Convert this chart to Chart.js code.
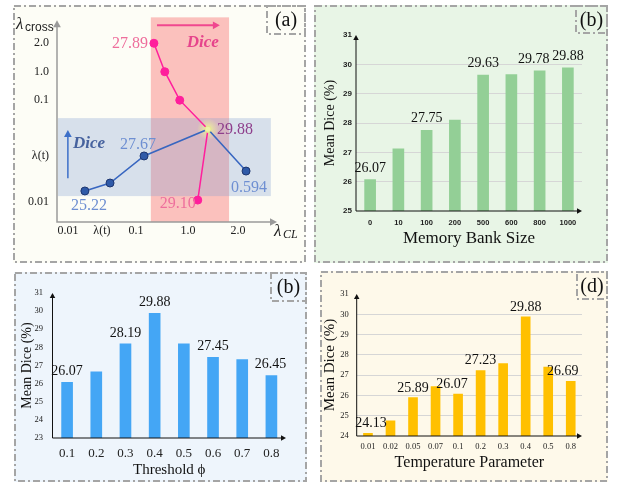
<!DOCTYPE html>
<html>
<head>
<meta charset="utf-8">
<script src="https://cdn.jsdelivr.net/npm/chart.js@4.4.0/dist/chart.umd.min.js"></script>
<style>
  body { margin: 0; background: #fff; width: 617px; height: 487px; position: relative; overflow: hidden; }
  .panel { position: absolute; }
</style>
</head>
<body>
<div class="panel" style="left:13px;top:5px;width:293px;height:258px"><canvas id="chartA"></canvas></div>
<div class="panel" style="left:314px;top:5px;width:294px;height:258px"><canvas id="chartMem"></canvas></div>
<div class="panel" style="left:14px;top:272px;width:293px;height:210px"><canvas id="chartThr"></canvas></div>
<div class="panel" style="left:320px;top:271px;width:288px;height:211px"><canvas id="chartTemp"></canvas></div>
<script>
// panel (a): positions on the two hyper-parameter axes
const crossTickVals = [0.42, 2.05, 4, 5, 6];
const crossTickLabels = ['0.01', 'λ(t)', '0.1', '1.0', '2.0'];
const clTickVals = [1, 2, 3, 4.53, 6];
const clTickLabels = ['0.01', 'λ(t)', '0.1', '1.0', '2.0'];

const blueX = [1.5, 2.24, 3.24, 5.12, 6.24];
const blueY = [0.81, 1.09, 2.04, 2.98, 1.51];
const blueDice = ['25.22', '', '27.67', '29.88', '0.594'];

const pinkX = [3.53, 3.85, 4.29, 5.12, 4.82];
const pinkY = [6, 5, 4, 2.98, 0.49];
const pinkDice = ['27.89', '', '', '', '29.10'];

// panel (b) memory bank
const memSizes = ['0', '10', '100', '200', '500', '600', '800', '1000'];
const memDice = [26.07, 27.12, 27.75, 28.1, 29.63, 29.65, 29.78, 29.88];
const memShow = [1, 0, 1, 0, 1, 0, 1, 1];

// panel (b) threshold
const thresholds = ['0.1', '0.2', '0.3', '0.4', '0.5', '0.6', '0.7', '0.8'];
const thrDice = [26.07, 26.65, 28.19, 29.88, 28.2, 27.45, 27.33, 26.45];
const thrShow = [1, 0, 1, 1, 0, 1, 0, 1];

// panel (d) temperature
const temps = ['0.01', '0.02', '0.05', '0.07', '0.1', '0.2', '0.3', '0.4', '0.5', '0.8'];
const tempDice = [24.13, 24.75, 25.89, 26.44, 26.07, 27.23, 27.57, 29.88, 27.4, 26.69];
const tempShow = [1, 0, 1, 0, 1, 1, 0, 1, 0, 1];

const SERIF = '"Liberation Serif", "DejaVu Serif", serif';
const SANS = '"Liberation Sans", Arial, sans-serif';

// background, dash-dot frame and the corner tag
const panelFrame = {
    id: 'panelFrame',
    beforeDraw(chart, args, o) {
        const ctx = chart.ctx;
        ctx.save();
        ctx.fillStyle = o.bg;
        ctx.fillRect(0, 0, chart.width, chart.height);
        ctx.restore();
    },
    afterDraw(chart, args, o) {
        const {ctx, width, height} = chart;
        ctx.save();
        ctx.strokeStyle = '#a5a5a5';
        ctx.lineWidth = 2;
        ctx.setLineDash([7, 3, 2, 3]);
        ctx.strokeRect(1, 1, width - 2, height - 2);
        ctx.strokeRect(width - o.tagW - 1, 1, o.tagW, o.tagH);
        ctx.setLineDash([]);
        ctx.fillStyle = '#111';
        ctx.font = '20px ' + SERIF;
        ctx.textAlign = 'center';
        ctx.textBaseline = 'middle';
        ctx.fillText(o.tag, width - o.tagW / 2 - 1, o.tagH / 2 + 2);
        ctx.restore();
    }
};

function arrowHead(ctx, x, y, dir, size) {
    ctx.beginPath();
    if (dir === 'up') {
        ctx.moveTo(x, y);
        ctx.lineTo(x - size * 0.55, y + size);
        ctx.lineTo(x + size * 0.55, y + size);
    } else {
        ctx.moveTo(x, y);
        ctx.lineTo(x - size, y - size * 0.55);
        ctx.lineTo(x - size, y + size * 0.55);
    }
    ctx.closePath();
    ctx.fill();
}

const axisArrows = {
    id: 'axisArrows',
    afterDatasetsDraw(chart, args, o) {
        const {ctx, chartArea: a} = chart;
        ctx.save();
        ctx.strokeStyle = o.color;
        ctx.fillStyle = o.color;
        ctx.lineWidth = o.width;
        ctx.beginPath();
        ctx.moveTo(a.left, a.top + o.size);
        ctx.lineTo(a.left, a.bottom);
        ctx.lineTo(a.right - o.size, a.bottom);
        ctx.stroke();
        arrowHead(ctx, a.left, a.top, 'up', o.size);
        arrowHead(ctx, a.right, a.bottom, 'right', o.size);
        ctx.restore();
    }
};

const barValues = {
    id: 'barValues',
    afterDatasetsDraw(chart, args, o) {
        const ctx = chart.ctx;
        const meta = chart.getDatasetMeta(0);
        const data = chart.data.datasets[0].data;
        ctx.save();
        ctx.fillStyle = '#111';
        ctx.font = '14px ' + SERIF;
        ctx.textAlign = 'center';
        ctx.textBaseline = 'alphabetic';
        meta.data.forEach((bar, i) => {
            if (!o.show[i]) return;
            ctx.fillText(data[i].toFixed(2), bar.x + (o.dx[i] || 0), bar.y - o.gap);
        });
        ctx.restore();
    }
};

function barChart(id, labels, values, show, cfg) {
    return new Chart(document.getElementById(id), {
        type: 'bar',
        data: {
            labels: labels,
            datasets: [{
                data: values,
                backgroundColor: cfg.color,
                barThickness: cfg.barW
            }]
        },
        options: {
            responsive: true,
            maintainAspectRatio: false,
            animation: false,
            layout: {padding: {left: 0, top: cfg.top, right: cfg.right, bottom: 0}},
            plugins: {
                legend: {display: false},
                tooltip: {enabled: false},
                panelFrame: {bg: cfg.bg, tag: cfg.tag, tagW: cfg.tagW, tagH: cfg.tagH},
                axisArrows: {color: '#111', width: 1, size: 5},
                barValues: {show: show, dx: cfg.dx, gap: cfg.gap}
            },
            scales: {
                x: {
                    grid: {display: false, drawTicks: false},
                    border: {display: false},
                    ticks: {font: cfg.xFont, color: '#222', padding: cfg.xPad, maxRotation: 0, autoSkip: false},
                    title: {display: true, text: cfg.xTitle, color: '#111',
                        font: {family: SERIF, size: cfg.xTitleSize}, padding: {top: 0, bottom: cfg.xTitlePad}},
                    afterFit: s => { s.height = cfg.bottom; }
                },
                y: {
                    min: cfg.min,
                    max: cfg.max,
                    grid: {
                        drawTicks: false,
                        color: c => (cfg.grid && c.tick.value > cfg.min && c.tick.value < cfg.max) ? '#d6d6d6' : 'rgba(0,0,0,0)'
                    },
                    border: {display: false},
                    ticks: {stepSize: 1, font: cfg.yFont, color: '#222', padding: cfg.yPad},
                    title: {display: true, text: 'Mean Dice (%)', color: '#111',
                        font: {family: SERIF, size: cfg.yTitleSize}, padding: {top: cfg.yTitlePad, bottom: 0}},
                    afterFit: s => { s.width = cfg.left; }
                }
            }
        },
        plugins: [panelFrame, axisArrows, barValues]
    });
}

// panel (a) decorations
const sketchA = {
    id: 'sketchA',
    beforeDatasetsDraw(chart) {
        const {ctx, chartArea: a, scales: {x, y}} = chart;
        ctx.save();
        // pink column (lambda_CL direction)
        ctx.fillStyle = 'rgba(248,120,120,0.45)';
        const px0 = x.getPixelForValue(3.44), px1 = x.getPixelForValue(5.74);
        const py0 = y.getPixelForValue(6.91);
        ctx.fillRect(px0, py0, px1 - px0, a.bottom - py0);
        // blue row (lambda_cross direction)
        ctx.fillStyle = 'rgba(130,160,210,0.3)';
        const bx1 = x.getPixelForValue(6.97);
        const by0 = y.getPixelForValue(3.37), by1 = y.getPixelForValue(0.63);
        ctx.fillRect(a.left + 1, by0, bx1 - a.left - 1, by1 - by0);
        // glow at the optimum
        const cx = x.getPixelForValue(blueX[3]), cy = y.getPixelForValue(blueY[3]);
        const g = ctx.createRadialGradient(cx, cy, 0, cx, cy, 11);
        g.addColorStop(0, 'rgba(240,245,150,0.95)');
        g.addColorStop(1, 'rgba(240,245,150,0)');
        ctx.fillStyle = g;
        ctx.beginPath();
        ctx.arc(cx, cy, 11, 0, Math.PI * 2);
        ctx.fill();
        ctx.restore();
    },
    afterDatasetsDraw(chart) {
        const {ctx, chartArea: a, scales: {x, y}} = chart;
        ctx.save();
        // axes
        ctx.strokeStyle = '#9a9a9a';
        ctx.fillStyle = '#9a9a9a';
        ctx.lineWidth = 1.5;
        ctx.beginPath();
        ctx.moveTo(a.left, a.top + 6);
        ctx.lineTo(a.left, a.bottom);
        ctx.lineTo(a.right - 6, a.bottom);
        ctx.stroke();
        arrowHead(ctx, a.left, a.top, 'up', 7);
        arrowHead(ctx, a.right, a.bottom, 'right', 7);

        // pink arrow + Dice
        ctx.strokeStyle = '#f0478f';
        ctx.fillStyle = '#f0478f';
        ctx.lineWidth = 2;
        const ay = y.getPixelForValue(6.63);
        const ax0 = x.getPixelForValue(3.62), ax1 = x.getPixelForValue(5.47);
        ctx.beginPath();
        ctx.moveTo(ax0, ay);
        ctx.lineTo(ax1 - 6, ay);
        ctx.stroke();
        arrowHead(ctx, ax1, ay, 'right', 7);
        ctx.font = 'italic bold 17px ' + SERIF;
        ctx.textAlign = 'center';
        ctx.textBaseline = 'middle';
        ctx.fillStyle = '#e6448c';
        ctx.fillText('Dice', x.getPixelForValue(4.97), y.getPixelForValue(6.04));

        // blue arrow + Dice
        ctx.strokeStyle = '#3c6fc8';
        ctx.fillStyle = '#3c6fc8';
        ctx.lineWidth = 1.5;
        const vx = x.getPixelForValue(1.0);
        const vy0 = y.getPixelForValue(1.26), vy1 = y.getPixelForValue(2.95);
        ctx.beginPath();
        ctx.moveTo(vx, vy0);
        ctx.lineTo(vx, vy1 + 6);
        ctx.stroke();
        arrowHead(ctx, vx, vy1, 'up', 7);
        ctx.fillStyle = '#46629e';
        ctx.fillText('Dice', x.getPixelForValue(1.62), y.getPixelForValue(2.49));

        // point labels
        ctx.font = '16px ' + SERIF;
        const put = (meta, texts, spec) => {
            meta.data.forEach((pt, i) => {
                if (!texts[i]) return;
                const s = spec[i];
                ctx.fillStyle = s.c;
                ctx.textAlign = s.al;
                ctx.fillText(texts[i], pt.x + s.dx, pt.y + s.dy);
            });
        };
        const lb = '#6e8fd2', lp = '#ee6e9c';
        put(chart.getDatasetMeta(0), blueDice, [
            {dx: 4, dy: 15, al: 'center', c: lb}, null,
            {dx: -6, dy: -11, al: 'center', c: lb},
            {dx: 9, dy: 1, al: 'left', c: '#8e3f8c'},
            {dx: 3, dy: 17, al: 'center', c: lb}
        ]);
        put(chart.getDatasetMeta(1), pinkDice, [
            {dx: -6, dy: 1, al: 'right', c: lp}, null, null, null,
            {dx: -20, dy: 4, al: 'center', c: lp}
        ]);

        // axis titles
        ctx.fillStyle = '#222';
        ctx.textAlign = 'left';
        ctx.textBaseline = 'alphabetic';
        ctx.font = 'italic 17px ' + SERIF;
        ctx.fillText('λ', a.left - 41, a.top + 9);
        ctx.font = '12px ' + SANS;
        ctx.fillText('cross', a.left - 32, a.top + 11);
        ctx.font = 'italic 17px ' + SERIF;
        ctx.fillText('λ', a.right - 3, a.bottom + 14);
        ctx.font = 'italic 12px ' + SERIF;
        ctx.fillText('CL', a.right + 6, a.bottom + 16);
        ctx.restore();
    }
};

new Chart(document.getElementById('chartA'), {
    type: 'scatter',
    data: {
        datasets: [{
            data: blueX.map((v, i) => ({x: v, y: blueY[i]})),
            showLine: true,
            borderColor: '#3866c0',
            borderWidth: 1.5,
            pointRadius: c => c.dataIndex === 3 ? 3 : 4,
            pointBackgroundColor: c => c.dataIndex === 3 ? '#eef2a8' : '#2f5aa8',
            pointBorderColor: c => c.dataIndex === 3 ? '#e6e890' : '#1d3670',
            pointBorderWidth: 1
        }, {
            data: pinkX.map((v, i) => ({x: v, y: pinkY[i]})),
            showLine: true,
            borderColor: '#ff1f9c',
            borderWidth: 1.5,
            pointRadius: c => c.dataIndex === 3 ? 3 : 4,
            pointBackgroundColor: c => c.dataIndex === 3 ? '#eef2a8' : '#ff1f9c',
            pointBorderColor: c => c.dataIndex === 3 ? '#e6e890' : '#ff1f9c',
            pointBorderWidth: 1
        }]
    },
    options: {
        responsive: true,
        maintainAspectRatio: false,
        animation: false,
        layout: {padding: {left: 0, top: 15, right: 29, bottom: 0}},
        plugins: {
            legend: {display: false},
            tooltip: {enabled: false},
            panelFrame: {bg: '#fdfdf6', tag: '(a)', tagW: 38, tagH: 28}
        },
        scales: {
            x: {
                type: 'linear',
                min: 0.68,
                max: 7.15,
                grid: {display: false, drawTicks: false},
                border: {display: false},
                afterBuildTicks: s => { s.ticks = clTickVals.map(v => ({value: v})); },
                ticks: {callback: (v, i) => clTickLabels[i], font: {family: SERIF, size: 12}, color: '#222',
                    padding: 2, maxRotation: 0, autoSkip: false},
                afterFit: s => { s.height = 41; }
            },
            y: {
                type: 'linear',
                min: -0.28,
                max: 6.81,
                grid: {display: false, drawTicks: false},
                border: {display: false},
                afterBuildTicks: s => { s.ticks = crossTickVals.map(v => ({value: v})); },
                ticks: {callback: (v, i) => crossTickLabels[i], font: {family: SERIF, size: 12}, color: '#222',
                    padding: 8, autoSkip: false},
                afterFit: s => { s.width = 44; }
            }
        }
    },
    plugins: [panelFrame, sketchA]
});

barChart('chartMem', memSizes, memDice, memShow, {
    color: '#93cf96', barW: 11, bg: '#e8f5e6', tag: '(b)', tagW: 31, tagH: 27,
    top: 30, right: 26, left: 42, bottom: 52, min: 25, max: 31, grid: true,
    xFont: {family: SANS, size: 7.5, weight: 'bold'}, xPad: 7,
    yFont: {family: SANS, size: 8, weight: 'bold'}, yPad: 4,
    xTitle: 'Memory Bank Size', xTitleSize: 17, xTitlePad: 13.8,
    yTitleSize: 14, yTitlePad: 7.6,
    dx: [0, 0, 0, 0, 0, 0, -6, 0], gap: 8
});

barChart('chartThr', thresholds, thrDice, thrShow, {
    color: '#44a6f5', barW: 11, bg: '#eef5fc', tag: '(b)', tagW: 35, tagH: 28,
    top: 21, right: 21, left: 38.5, bottom: 44, min: 23, max: 31, grid: false,
    xFont: {family: SERIF, size: 13}, xPad: 8,
    yFont: {family: SERIF, size: 8.5}, yPad: 9.5,
    xTitle: 'Threshold ϕ', xTitleSize: 15, xTitlePad: 3,
    yTitleSize: 14, yTitlePad: 4.6,
    dx: [0, 0, 0, 0, 0, 0, 0, -1], gap: 7
});

barChart('chartTemp', temps, tempDice, tempShow, {
    color: '#ffc000', barW: 9, bg: '#fef9ea', tag: '(d)', tagW: 30, tagH: 27,
    top: 23, right: 26, left: 36.7, bottom: 46, min: 24, max: 31, grid: true,
    xFont: {family: SERIF, size: 8.5}, xPad: 6,
    yFont: {family: SERIF, size: 8.5}, yPad: 8,
    xTitle: 'Temperature Parameter', xTitleSize: 16, xTitlePad: 9.4,
    yTitleSize: 15, yTitlePad: 1,
    dx: [3, 0, 0, 0, -6, 0, 0, 0, 0, -8], gap: 6
});
</script>
</body>
</html>
